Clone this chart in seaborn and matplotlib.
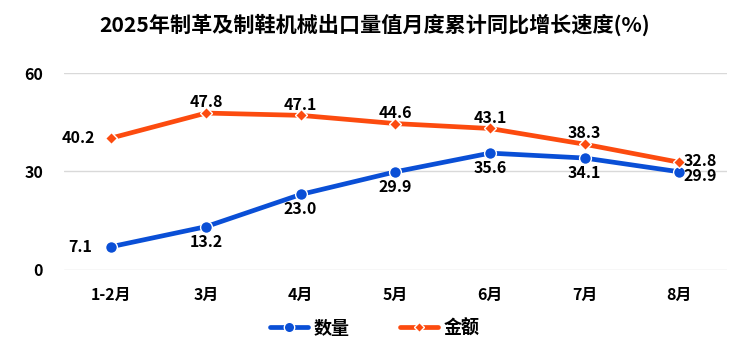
import numpy as np
import pandas as pd
import matplotlib
matplotlib.use('Agg')
import matplotlib.pyplot as plt
import seaborn as sns

months = ["1-2月", "3月", "4月", "5月", "6月", "7月", "8月"]
qty = [7.1, 13.2, 23.0, 29.9, 35.6, 34.1, 29.9]
amount = [40.2, 47.8, 47.1, 44.6, 43.1, 38.3, 32.8]
series_names = ["数量", "金额"]
colors = ["#0a4fd6", "#fc4b0f"]

sns.set_theme(style="white")
plt.rcParams['font.family'] = ['Noto Sans CJK SC', 'DejaVu Sans']
plt.rcParams['text.color'] = 'black'
plt.rcParams['xtick.color'] = 'black'
plt.rcParams['ytick.color'] = 'black'

df = pd.DataFrame({
    "month": months * 2,
    "value": qty + amount,
    "series": [series_names[0]] * len(months) + [series_names[1]] * len(months),
})

fig = plt.figure(figsize=(7.5, 3.51), dpi=100)
ax = fig.add_axes([0.0853, 0.2308, 0.8837, 0.5612])

sns.lineplot(data=df, x="month", y="value", hue="series", style="series",
             markers={"数量": "o", "金额": "D"}, dashes=False,
             palette=dict(zip(series_names, colors)), linewidth=3.4,
             markersize=8.5, markeredgecolor="white", markeredgewidth=1.0,
             sort=False, ax=ax, legend=False)
# orange diamonds are smaller
ax.lines[1].set_markersize(6)

ax.set_xlim(-0.5, len(months) - 0.5)
ax.set_ylim(0, 60)
ax.set_yticks([0, 30, 60])
ax.yaxis.grid(True, color="#d9d9d9", linewidth=1)
for s in ax.spines.values():
    s.set_visible(False)
ax.set_xlabel("")
ax.set_ylabel("")
ax.tick_params(axis="both", length=0, labelsize=11.5)
ax.tick_params(axis="x", pad=12)
ax.tick_params(axis="y", pad=15)
for lab in ax.get_xticklabels() + ax.get_yticklabels():
    lab.set_fontweight("bold")

fs = 11.5
# data labels
for i, v in enumerate(qty):
    if i == 0:
        ax.annotate(f"{v:.1f}", (i, v), xytext=(-14, 0), textcoords="offset points",
                    ha="right", va="center", fontsize=fs, fontweight="bold")
    elif i == len(qty) - 1:
        ax.annotate(f"{v:.1f}", (i, v), xytext=(3, -3), textcoords="offset points",
                    ha="left", va="center", fontsize=fs, fontweight="bold")
    else:
        ax.annotate(f"{v:.1f}", (i, v), xytext=(0, -5), textcoords="offset points",
                    ha="center", va="top", fontsize=fs, fontweight="bold")
for i, v in enumerate(amount):
    if i == 0:
        ax.annotate(f"{v:.1f}", (i, v), xytext=(-12, 0), textcoords="offset points",
                    ha="right", va="center", fontsize=fs, fontweight="bold")
    elif i == len(amount) - 1:
        ax.annotate(f"{v:.1f}", (i, v), xytext=(3, 1), textcoords="offset points",
                    ha="left", va="center", fontsize=fs, fontweight="bold")
    else:
        ax.annotate(f"{v:.1f}", (i, v), xytext=(0, 2), textcoords="offset points",
                    ha="center", va="bottom", fontsize=fs, fontweight="bold")

fig.suptitle("2025年制革及制鞋机械出口量值月度累计同比增长速度(%)",
             x=0.5, y=0.96, fontsize=15.2, fontweight="bold")

handles = [
    plt.Line2D([], [], color=colors[0], marker="o", linewidth=3.4, markersize=7.5,
               markeredgecolor="white", markeredgewidth=1.0),
    plt.Line2D([], [], color=colors[1], marker="D", linewidth=3.4, markersize=5,
               markeredgecolor="white", markeredgewidth=1.0),
]
fig.legend(handles, series_names, loc="center", bbox_to_anchor=(0.5, 0.065),
           ncol=2, frameon=False, handlelength=2.1, columnspacing=2.8,
           handletextpad=0.3, prop={"weight": "bold", "size": 13})

fig.savefig("out.png", dpi=100)
